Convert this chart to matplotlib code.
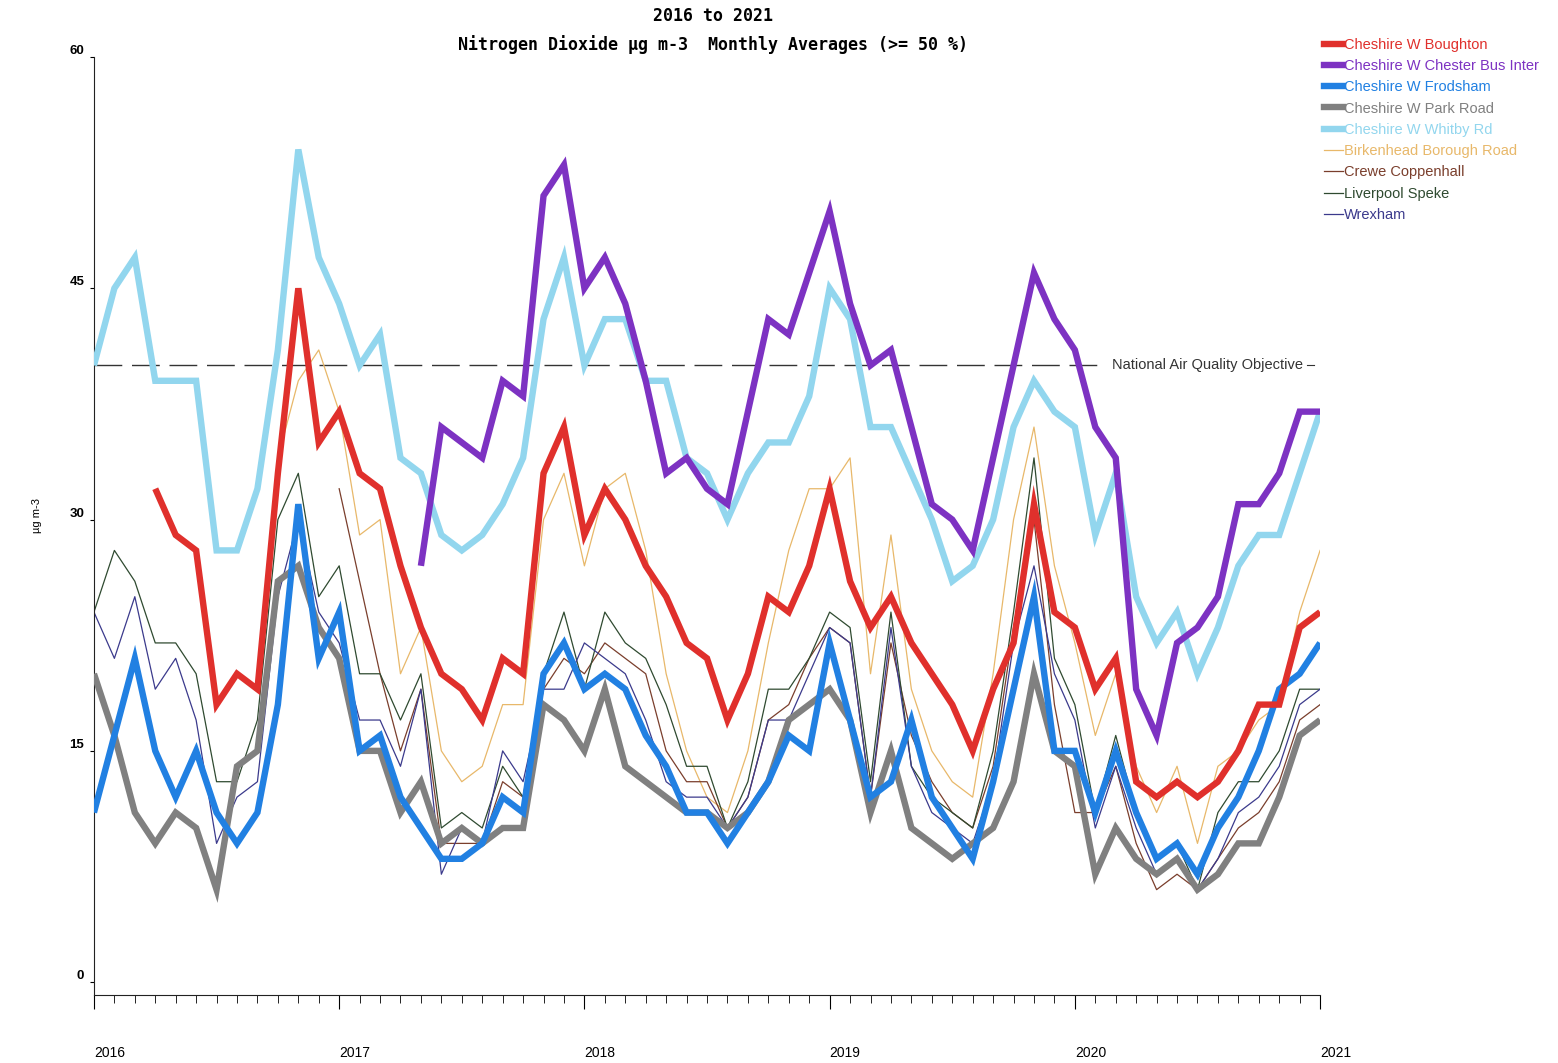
import matplotlib
matplotlib.use("Agg")
import matplotlib.pyplot as plt
from matplotlib.lines import Line2D
import numpy as np

nan = np.nan

# monthly NO2 averages, Jan 2016 .. Jan 2021 (61 points)
months = np.arange(61)
year_labels = ["2016", "2017", "2018", "2019", "2020", "2021"]

boughton = [nan, nan, nan, 32, 29, 28, 18, 20, 19, 33, 45, 35, 37, 33, 32, 27, 23, 20, 19, 17,
            21, 20, 33, 36, 29, 32, 30, 27, 25, 22, 21, 17, 20, 25, 24, 27, 32, 26, 23, 25,
            22, 20, 18, 15, 19, 22, 31, 24, 23, 19, 21, 13, 12, 13, 12, 13, 15, 18, 18, 23, 24]
chester_bus = [nan] * 16 + [27, 36, 35, 34, 39, 38, 51, 53, 45, 47, 44, 39, 33, 34, 32, 31,
               37, 43, 42, 46, 50, 44, 40, 41, 36, 31, 30, 28, 34, 40, 46, 43, 41, 36, 34, 19,
               16, 22, 23, 25, 31, 31, 33, 37, 37]
frodsham = [11, 16, 21, 15, 12, 15, 11, 9, 11, 18, 31, 21, 24, 15, 16, 12, 10, 8, 8, 9,
            12, 11, 20, 22, 19, 20, 19, 16, 14, 11, 11, 9, 11, 13, 16, 15, 22, 17, 12, 13,
            17, 12, 10, 8, 13, 19, 25, 15, 15, 11, 15, 11, 8, 9, 7, 10, 12, 15, 19, 20, 22]
park_road = [20, 16, 11, 9, 11, 10, 6, 14, 15, 26, 27, 23, 21, 15, 15, 11, 13, 9, 10, 9,
             10, 10, 18, 17, 15, 19, 14, 13, 12, 11, 11, 10, 11, 13, 17, 18, 19, 17, 11, 15,
             10, 9, 8, 9, 10, 13, 20, 15, 14, 7, 10, 8, 7, 8, 6, 7, 9, 9, 12, 16, 17]
whitby = [40, 45, 47, 39, 39, 39, 28, 28, 32, 41, 54, 47, 44, 40, 42, 34, 33, 29, 28, 29,
          31, 34, 43, 47, 40, 43, 43, 39, 39, 34, 33, 30, 33, 35, 35, 38, 45, 43, 36, 36,
          33, 30, 26, 27, 30, 36, 39, 37, 36, 29, 33, 25, 22, 24, 20, 23, 27, 29, 29, 33, 37]
birkenhead = [nan] * 8 + [19, 34, 39, 41, 37, 29, 30, 20, 23, 15, 13, 14, 18, 18, 30, 33,
              27, 32, 33, 28, 20, 15, 12, 11, 15, 22, 28, 32, 32, 34, 20, 29, 19, 15, 13,
              12, 20, 30, 36, 27, 22, 16, 20, 14, 11, 14, 9, 14, 15, 17, 18, 24, 28]
crewe = [nan] * 12 + [32, 26, 20, 15, 19, 9, 9, 9, 13, 12, 19, 21, 20, 22, 21, 20, 15, 13,
         13, 10, 12, 17, 18, 21, 23, 22, 12, 22, 16, 13, 11, 10, 14, 23, 30, 18, 11, 11,
         14, 9, 6, 7, 6, 8, 10, 11, 13, 17, 18]
speke = [24, 28, 26, 22, 22, 20, 13, 13, 17, 30, 33, 25, 27, 20, 20, 17, 20, 10, 11, 10,
         14, 12, 20, 24, 19, 24, 22, 21, 18, 14, 14, 10, 13, 19, 19, 21, 24, 23, 13, 24,
         14, 12, 11, 10, 15, 24, 34, 21, 18, 11, 16, 11, 8, 9, 6, 11, 13, 13, 15, 19, 19]
wrexham = [24, 21, 25, 19, 21, 17, 9, 12, 13, 25, 30, 24, 22, 17, 17, 14, 19, 7, 10, 9,
           15, 13, 19, 19, 22, 21, 20, 17, 13, 12, 12, 10, 12, 17, 17, 20, 23, 22, 12, 23,
           14, 11, 10, 9, 13, 22, 27, 20, 17, 10, 14, 10, 7, 8, 6, 8, 11, 12, 14, 18, 19]

objective = 40

thick = [
    ("Cheshire W Boughton", boughton, "#e0302c"),
    ("Cheshire W Chester Bus Inter", chester_bus, "#7d32c2"),
    ("Cheshire W Frodsham", frodsham, "#2180e2"),
    ("Cheshire W Park Road", park_road, "#808080"),
    ("Cheshire W Whitby Rd", whitby, "#92d6ee"),
]
thin = [
    ("Birkenhead Borough Road", birkenhead, "#e8b86a"),
    ("Crewe Coppenhall", crewe, "#7a3e2c"),
    ("Liverpool Speke", speke, "#2f4a30"),
    ("Wrexham", wrexham, "#3b3a8c"),
]

plt.rcParams["font.family"] = ["Liberation Sans", "DejaVu Sans"]

fig = plt.figure(figsize=(15.58, 10.63), dpi=100)
ax = fig.add_axes([0.0603, 0.0640, 0.787, 0.8824])

handles = {}
for name, vals, col in thin:
    handles[name], = ax.plot(months, vals, color=col, lw=0.9, zorder=2)

draw_order = ["Cheshire W Whitby Rd", "Cheshire W Park Road", "Cheshire W Frodsham",
              "Cheshire W Boughton", "Cheshire W Chester Bus Inter"]
thick_map = {n: (v, c) for n, v, c in thick}
for z, name in enumerate(draw_order):
    vals, col = thick_map[name]
    handles[name], = ax.plot(months, vals, color=col, lw=4.6, zorder=3 + z,
                             solid_joinstyle="miter", solid_capstyle="butt")

# air quality objective line with its label
ax.plot([0, 49.45], [objective, objective], color="#333333", lw=1.0,
        dashes=(20, 7), zorder=1)
ax.text(49.8, objective, "National Air Quality Objective", fontsize=10.5,
        va="center", ha="left", color="#333333")
ax.plot([59.35, 59.7], [objective, objective], color="#333333", lw=0.8)

ax.set_xlim(0, 60)
ax.set_ylim(-0.83, 60)
ax.spines["top"].set_visible(False)
ax.spines["right"].set_visible(False)
ax.spines["left"].set_color("#222222")
ax.spines["bottom"].set_color("#222222")

ax.set_yticks([0, 15, 30, 45, 60])
ax.set_yticklabels(["0", "15", "30", "45", "60"], fontsize=9.5, fontweight="bold",
                   va="bottom")
ax.tick_params(axis="y", length=3, pad=4)

ax.set_xticks(np.arange(0, 61, 12))
ax.set_xticklabels(year_labels, fontsize=10, ha="left")
ax.set_xticks(np.arange(0, 61, 1), minor=True)
ax.tick_params(axis="x", which="major", length=10, pad=27, direction="out")
ax.tick_params(axis="x", which="minor", length=6, direction="out")

fig.text(0.024, 0.515, "µg m-3", rotation=90, fontsize=8, va="center", ha="center")

fig.text(0.4575, 0.985, "2016 to 2021", fontsize=12, fontweight="bold",
         family="DejaVu Sans Mono", ha="center", va="center")
fig.text(0.4575, 0.958, "Nitrogen Dioxide µg m-3  Monthly Averages (>= 50 %)",
         fontsize=12, fontweight="bold", family="DejaVu Sans Mono",
         ha="center", va="center")

order = [n for n, _, _ in thick] + [n for n, _, _ in thin]
leg_handles = []
for n in order:
    h = handles[n]
    leg_handles.append(Line2D([], [], color=h.get_color(), lw=h.get_linewidth()))
fig.legend(leg_handles, order, loc="upper left",
           bbox_to_anchor=(0.846, 0.97), frameon=False, fontsize=10.5,
           handlelength=1.3, handletextpad=0.1, labelspacing=0.5,
           borderaxespad=0, labelcolor="linecolor")

fig.savefig("out.png", dpi=100)
